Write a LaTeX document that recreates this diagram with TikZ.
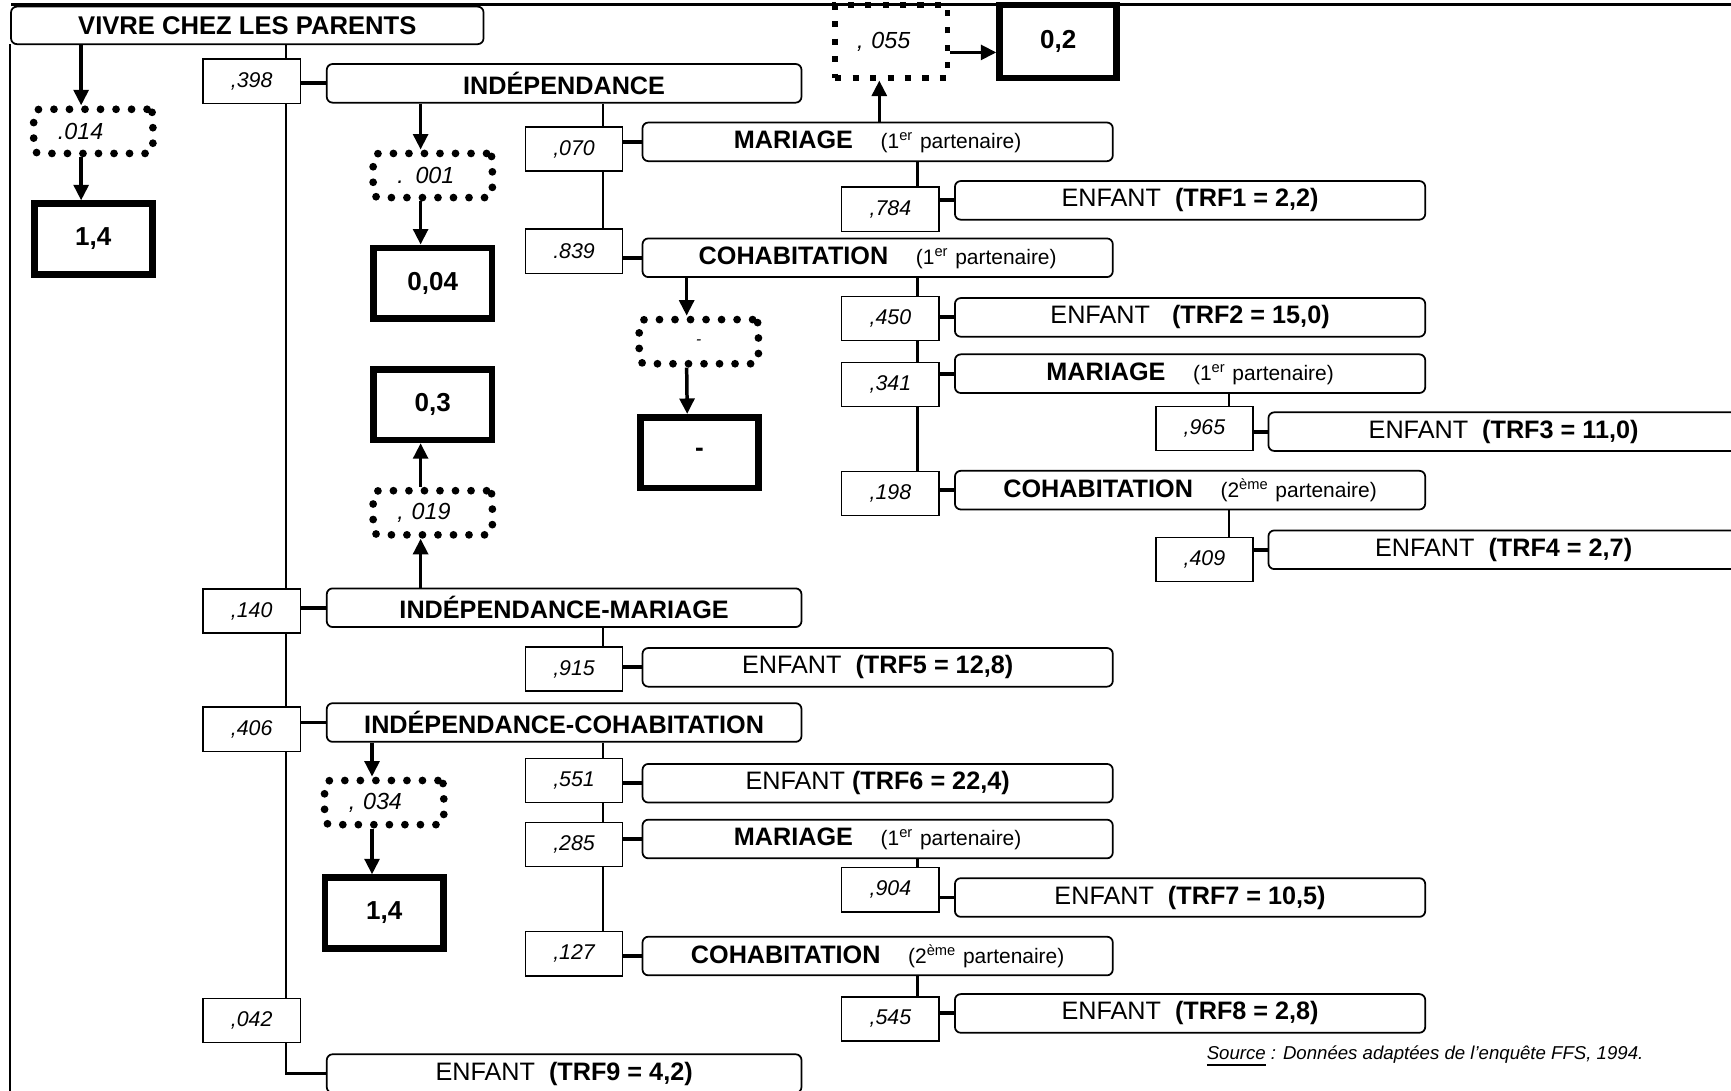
\documentclass[tikz,border=0pt]{standalone}
\usepackage{fontspec}
\setmainfont{Liberation Sans}
\usetikzlibrary{arrows.meta}

\newcommand{\partenaire}[1]{\hspace{.25cm}{\fontsize{5.4}{6}\selectfont(#1 partenaire)}}

\tikzset{
  etat/.style={draw,rounded corners=1.5pt,line width=.45pt,minimum width=4.26cm,minimum height=.35cm,inner sep=0pt,font=\fontsize{6.5}{7}\selectfont},
  prob/.style={draw,fill=white,line width=.35pt,minimum width=.88cm,minimum height=.4cm,inner sep=0pt,font=\fontsize{5.5}{6}\selectfont\itshape},
  risque/.style={draw,line width=1.7pt,minimum width=1.07cm,minimum height=.64cm,inner sep=0pt,font=\fontsize{6.7}{7}\selectfont\bfseries},
  pointille/.style={draw,line width=2pt,line cap=round,dash pattern=on 0pt off 4pt,rounded corners=1.5pt,text width=.64cm,align=left,inner xsep=.22cm,inner ysep=0pt,minimum height=.4cm,font=\fontsize{6}{7}\selectfont\itshape},
  fleche/.style={-{Triangle[length=4pt,width=3.8pt]},line width=.9pt},
  lien/.style={line width=.6pt},
  tige/.style={line width=1pt},
}

\begin{document}
\begin{tikzpicture}
\useasboundingbox (0,0) rectangle (15.68,-9.88);
% cadre
\draw[line width=.6pt] (.10,-.04) -- (15.68,-.04);
\draw[line width=.6pt] (.09,-.40) -- (.09,-9.88);

\coordinate (t1) at (2.59,0);
\coordinate (t2) at (5.46,0);
\coordinate (t3) at (8.31,0);
\coordinate (t4) at (11.13,0);

\node[etat,minimum width=4.28cm,minimum height=.34cm,font=\fontsize{6.6}{7}\selectfont\bfseries] (vivre) at (2.24,-.23) {VIVRE CHEZ LES PARENTS};

% premier niveau
\node[etat,minimum width=4.30cm] (indep) at (5.11,-.755) {\bfseries INDÉPENDANCE};
\node[etat,minimum width=4.30cm] (indepmar) at (5.11,-5.505) {\bfseries INDÉPENDANCE-MARIAGE};
\node[etat,minimum width=4.30cm] (indepcoh) at (5.11,-6.545) {\bfseries INDÉPENDANCE-COHABITATION};
\node[etat,minimum width=4.30cm] (enf9) at (5.11,-9.725) {ENFANT\ \ \textbf{(TRF9 = 4,2)}};

% deuxieme niveau
\node[etat] (mar1) at (7.95,-1.285) {\textbf{MARIAGE}\partenaire{1\textsuperscript{er}}};
\node[etat] (coh1) at (7.95,-2.335) {\textbf{COHABITATION}\partenaire{1\textsuperscript{er}}};
\node[etat] (enf5) at (7.95,-6.045) {ENFANT\ \ \textbf{(TRF5 = 12,8)}};
\node[etat] (enf6) at (7.95,-7.095) {ENFANT \textbf{(TRF6 = 22,4)}};
\node[etat] (mar2) at (7.95,-7.60) {\textbf{MARIAGE}\partenaire{1\textsuperscript{er}}};
\node[etat] (coh2) at (7.95,-8.66) {\textbf{COHABITATION}\partenaire{2\textsuperscript{ème}}};

% troisieme niveau
\node[etat] (enf1) at (10.78,-1.815) {ENFANT\ \ \textbf{(TRF1 = 2,2)}};
\node[etat] (enf2) at (10.78,-2.875) {ENFANT\hspace{.2cm}\textbf{(TRF2 = 15,0)}};
\node[etat] (mar3) at (10.78,-3.385) {\textbf{MARIAGE}\partenaire{1\textsuperscript{er}}};
\node[etat] (coh3) at (10.78,-4.44) {\textbf{COHABITATION}\partenaire{2\textsuperscript{ème}}};
\node[etat] (enf7) at (10.78,-8.13) {ENFANT\ \ \textbf{(TRF7 = 10,5)}};
\node[etat] (enf8) at (10.78,-9.18) {ENFANT\ \ \textbf{(TRF8 = 2,8)}};

% quatrieme niveau
\node[etat] (enf3) at (13.62,-3.91) {ENFANT\ \ \textbf{(TRF3 = 11,0)}};
\node[etat] (enf4) at (13.62,-4.98) {ENFANT\ \ \textbf{(TRF4 = 2,7)}};

% probabilites
\foreach \n/\x/\y in {398/2.28/-.735, 140/2.28/-5.535, 406/2.28/-6.605, 042/2.28/-9.245,
  070/5.20/-1.35, 915/5.20/-6.06, 551/5.20/-7.07, 285/5.20/-7.65, 127/5.20/-8.64,
  784/8.065/-1.895, 450/8.065/-2.885, 341/8.065/-3.485, 198/8.065/-4.47, 904/8.065/-8.06, 545/8.065/-9.23,
  965/10.91/-3.88, 409/10.91/-5.07}
  \node[prob] (p\n) at (\x,\y) {,\n};
\node[prob] (p839) at (5.20,-2.275) {.839};

% sorties
\node[pointille] (d014) at (.845,-1.19) {.014};
\node[risque] (r14a) at (.845,-2.165) {1,4};
\node[pointille] (d001) at (3.92,-1.59) {. 001};
\node[risque] (r004) at (3.92,-2.565) {0,04};
\node[risque] (r03) at (3.92,-3.665) {0,3};
\node[pointille] (d019) at (3.92,-4.645) {, 019};
\node[pointille,align=center] (dvide) at (6.33,-3.095) {\fontsize{4}{5}\selectfont -};
\node[risque] (rvide) at (6.335,-4.10) {-};
\node[pointille] (d034) at (3.48,-7.27) {, 034};
\node[risque] (r14b) at (3.48,-8.27) {1,4};
\node[pointille,line cap=butt,dash pattern=on 1.6pt off 2.9pt,line width=1.4pt,sharp corners,text width=.62cm,inner xsep=.2cm,minimum height=.66cm] (d055) at (8.075,-.375) {, 055};
\node[risque,minimum width=1.06cm,minimum height=.66cm] (r02) at (9.585,-.375) {0,2};

% troncs
\draw[lien] (vivre.south -| t1) -- (p398.north -| t1) (p398.south -| t1) -- (p140.north -| t1)
  (p140.south -| t1) -- (p406.north -| t1) (p406.south -| t1) -- (p042.north -| t1)
  (p042.south -| t1) |- (enf9.west);
\draw[lien] (indep.south -| t2) -- (p070.north -| t2) (p070.south -| t2) -- (p839.north -| t2);
\draw[lien] (indepmar.south -| t2) -- (p915.north -| t2);
\draw[lien] (indepcoh.south -| t2) -- (p551.north -| t2) (p551.south -| t2) -- (p285.north -| t2)
  (p285.south -| t2) -- (p127.north -| t2);
\draw[lien] (mar1.south -| t3) -- (p784.north -| t3);
\draw[lien] (coh1.south -| t3) -- (p450.north -| t3) (p450.south -| t3) -- (p341.north -| t3)
  (p341.south -| t3) -- (p198.north -| t3);
\draw[lien] (mar2.south -| t3) -- (p904.north -| t3);
\draw[lien] (coh2.south -| t3) -- (p545.north -| t3);
\draw[lien] (mar3.south -| t4) -- (p965.north -| t4);
\draw[lien] (coh3.south -| t4) -- (p409.north -| t4);

\foreach \a/\b in {398/indep,140/indepmar,406/indepcoh,070/mar1,839/coh1,915/enf5,551/enf6,285/mar2,127/coh2,
  784/enf1,450/enf2,341/mar3,198/coh3,904/enf7,545/enf8,965/enf3,409/enf4}
  \draw[tige] (p\a.east |- \b.west) -- (\b.west);

% fleches
\draw[fleche] ([xshift=-.11cm]d014.north |- vivre.south) -- ([xshift=-.11cm]d014.north);
\draw[fleche] ([xshift=-.11cm]d014.south) -- ([xshift=-.11cm]r14a.north);
\draw[fleche] ([xshift=-.11cm]d001.north |- indep.south) -- ([xshift=-.11cm]d001.north);
\draw[fleche] ([xshift=-.11cm]d001.south) -- ([xshift=-.11cm]r004.north);
\draw[fleche] ([xshift=-.11cm]d019.south |- indepmar.north) -- ([xshift=-.11cm]d019.south);
\draw[fleche] ([xshift=-.11cm]d019.north) -- ([xshift=-.11cm]r03.south);
\draw[fleche] ([xshift=-.11cm]dvide.north |- coh1.south) -- ([xshift=-.11cm]dvide.north);
\draw[fleche] ([xshift=-.11cm]dvide.south) -- ([xshift=-.11cm]rvide.north);
\draw[fleche] ([xshift=-.11cm]d034.north |- indepcoh.south) -- ([xshift=-.11cm]d034.north);
\draw[fleche] ([xshift=-.11cm]d034.south) -- ([xshift=-.11cm]r14b.north);
\draw[fleche] ([xshift=-.11cm]d055.south |- mar1.north) -- ([xshift=-.11cm]d055.south);
\draw[fleche] ([yshift=-.1cm]d055.east) -- ([yshift=-.1cm]d055.east -| r02.west);

\node[anchor=east,font=\fontsize{4.8}{5}\selectfont\itshape] (source) at (15.01,-9.57) {\underline{Source} : Données adaptées de l'enquête FFS, 1994.};
\end{tikzpicture}
\end{document}
